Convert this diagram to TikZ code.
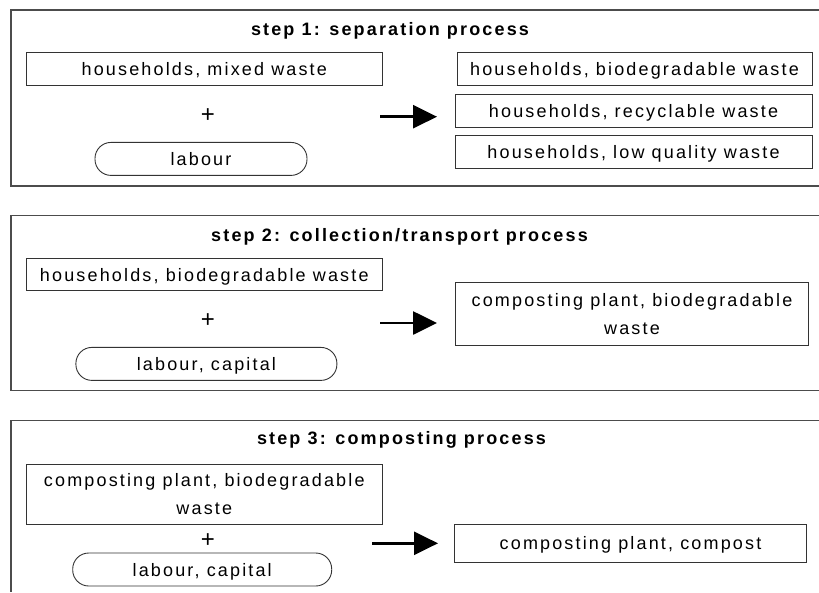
\documentclass[tikz,border=0pt]{standalone}
\usepackage{fontspec}
\setmainfont{Liberation Sans}[LetterSpace=12]
\usepackage{tikz}
\usetikzlibrary{arrows.meta}
\tikzset{
  wbox/.style={rectangle, draw=black!80, line width=0.9pt, inner sep=0pt,
               minimum height=33pt, text height=14pt, text depth=1pt},
  wlab/.style={wbox, rounded corners=16pt},
  wtwo/.style={rectangle, draw=black!80, line width=0.9pt, inner sep=0pt,
               align=center},
  wplus/.style={inner sep=0pt, font=\fontsize{24}{28}\selectfont},
  wtitle/.style={font=\fontsize{18}{28}\selectfont\bfseries, anchor=base},
  wpanel/.style={draw=black!70, line width=1.2pt},
  wflow/.style={line width=2.7pt, -{Triangle[length=24pt,width=23pt]}}
}

\begin{document}
\begin{tikzpicture}[x=1pt, y=-1pt, font=\fontsize{18}{28}\selectfont]
  \useasboundingbox (0,0) rectangle (819,592);
  % panels, open on the right
  \draw[wpanel] (819,10) -- (11,10) -- (11,186) -- (819,186);
  \draw[wpanel] (819,215.7) -- (11,215.7) -- (11,390.7) -- (819,390.7);
  \draw[wpanel] (819,420.7) -- (11,420.7) -- (11,592);
  % step 1
  \node[wtitle] (title1) at (390,35) {step 1: separation process};
  \node[wbox, minimum width=356pt] (mixed1) at (204.3,69.3) {households, mixed waste};
  \node[wplus] (plus1) at (208,116) {+};
  \node[wlab, minimum width=212pt] (labour1) at (201,158.9) {labour};
  \node[wbox, minimum width=355pt] (bio1) at (634.5,69.3) {households, biodegradable waste};
  \node[wbox, minimum width=357pt] (recyc1) at (633.5,110.8) {households, recyclable waste};
  \node[wbox, minimum width=357pt] (low1) at (633.5,152.4) {households, low quality waste};
  \coordinate (f1a) at (380,116.7);
  \coordinate (f1b) at (437,116.7);
  \draw[wflow] (f1a) -- (f1b);
  % step 2
  \node[wtitle] (title2) at (399.5,241.7) {step 2: collection/transport process};
  \node[wbox, minimum width=356pt, minimum height=32.4pt] (bio2) at (204.3,274.5) {households, biodegradable waste};
  \node[wplus] (plus2) at (208,320.7) {+};
  \node[wlab, minimum width=261pt] (labour2) at (206.4,363.9) {labour, capital};
  \node[wtwo, minimum width=353pt, minimum height=63pt] (plant2) at (632,314.3) {composting plant, biodegradable\\waste};
  \coordinate (f2a) at (380,323);
  \coordinate (f2b) at (437,323);
  \draw[wflow] (f2a) -- (f2b);
  % step 3
  \node[wtitle] (title3) at (401.5,444.5) {step 3: composting process};
  \node[wtwo, minimum width=356pt, minimum height=60pt] (plant3) at (204.3,494.2) {composting plant, biodegradable\\waste};
  \node[wplus] (plus3) at (208,541) {+};
  \node[wlab, minimum width=259pt] (labour3) at (202.2,569.5) {labour, capital};
  \node[wbox, minimum width=352pt, minimum height=38pt] (compost3) at (630.5,543.3) {composting plant, compost};
  \coordinate (f3a) at (372,543.3);
  \coordinate (f3b) at (438,543.3);
  \draw[wflow] (f3a) -- (f3b);
\end{tikzpicture}
\end{document}
